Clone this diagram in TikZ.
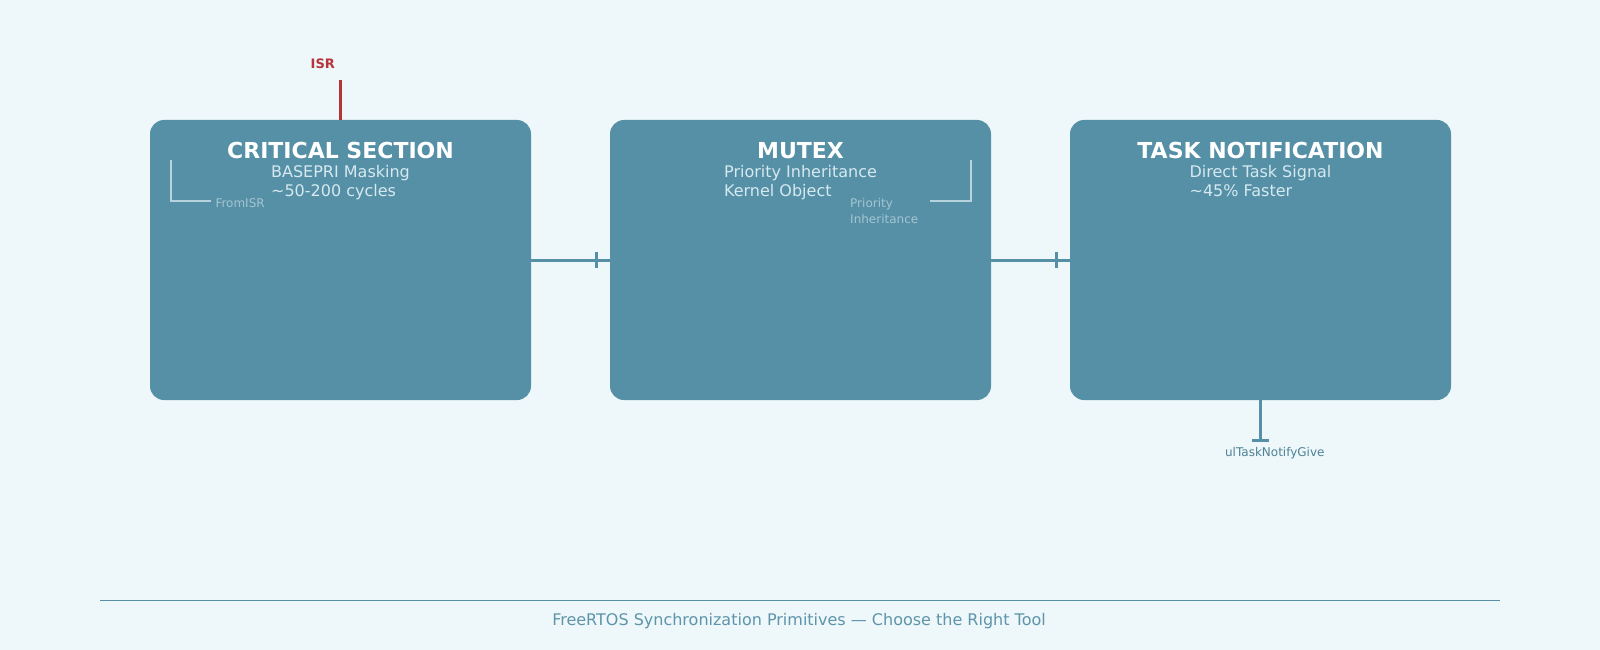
\documentclass[tikz,border=0pt]{standalone}
\usepackage{fontspec}
\setmainfont{DejaVu Sans}
\usetikzlibrary{calc}
\definecolor{bgpale}{HTML}{EEF7FA}
\definecolor{primteal}{HTML}{5590A6}
\definecolor{subpale}{HTML}{D6E9F0}
\definecolor{notegray}{HTML}{A6C5D2}
\definecolor{isrred}{HTML}{B5343A}
\begin{document}
\begin{tikzpicture}[
    x=1pt,y=-1pt,
    prim/.style={fill=primteal,rounded corners=14pt,minimum width=381pt,minimum height=280pt},
    ttl/.style={anchor=base,text=white,font=\fontsize{22}{26}\selectfont\bfseries},
    sub/.style={anchor=north,align=left,inner sep=0pt,text=subpale,font=\fontsize{16}{19}\selectfont},
    note/.style={anchor=north west,align=left,inner sep=0pt,text=notegray,font=\fontsize{12}{16}\selectfont},
    brk/.style={draw=subpale!75!primteal,line width=1.8pt},
    link/.style={primteal,line width=3pt},
    tick/.style={primteal,line width=3.5pt}
]
  \fill[bgpale] (0,0) rectangle (1600,650);
  \useasboundingbox (0,0) rectangle (1600,650);

  % Primitives
  \node[prim] (crit) at (340.5,260) {};
  \node[prim] (mutex) at (800.5,260) {};
  \node[prim] (notif) at (1260.5,260) {};

  \node[ttl] (critT) at (340.5,158) {CRITICAL SECTION};
  \node[sub] (critS) at (340.5,165) {BASEPRI Masking\\\textasciitilde50-200 cycles};
  \node[ttl] (mutexT) at (800.5,158) {MUTEX};
  \node[sub] (mutexS) at (800.5,165) {Priority Inheritance\\Kernel Object};
  \node[ttl] (notifT) at (1260.5,158) {TASK NOTIFICATION};
  \node[sub] (notifS) at (1260.5,165) {Direct Task Signal\\\textasciitilde45\% Faster};

  % Side notes
  \draw[brk] (170.7,160) -- (170.7,201) -- (210.7,201);
  \node[note] (fromisr) at (215.3,198) {FromISR};
  \draw[brk] (970.7,160) -- (970.7,200.7) -- (930,200.7);
  \node[note] (prinh) at (850,197.7) {Priority\\Inheritance};

  % ISR entry
  \node[anchor=base,text=isrred,font=\fontsize{13}{15}\selectfont\bfseries] (isr) at (322.8,68.3) {ISR};
  \coordinate (isrend) at (340.5,80);
  \draw[isrred,line width=2.5pt] (isrend) -- (crit.north);

  % Links
  \draw[link] (crit.east) -- (mutex.west);
  \draw[tick] ($(mutex.west)+(-13.3,-8.3)$) -- ++(0,16.6);
  \draw[link] (mutex.east) -- (notif.west);
  \draw[tick] ($(notif.west)+(-13.3,-8.3)$) -- ++(0,16.6);

  % Give call
  \coordinate (givept) at (1260.5,440);
  \draw[link] (notif.south) -- (givept);
  \draw[primteal,line width=3pt] ($(givept)+(-8.5,0)$) -- ++(17,0);
  \node[anchor=base,text=primteal!90!black,font=\fontsize{12}{14}\selectfont] (give) at (1274.8,456.7) {ulTaskNotifyGive};

  % Footer
  \coordinate (ruleL) at (100,600);
  \coordinate (ruleR) at (1500,600);
  \draw[primteal,line width=1pt] (ruleL) -- (ruleR);
  \node[anchor=base,text=primteal!95!white,font=\fontsize{16}{19}\selectfont] (caption) at (799,625)
    {FreeRTOS Synchronization Primitives — Choose the Right Tool};
\end{tikzpicture}
\end{document}
